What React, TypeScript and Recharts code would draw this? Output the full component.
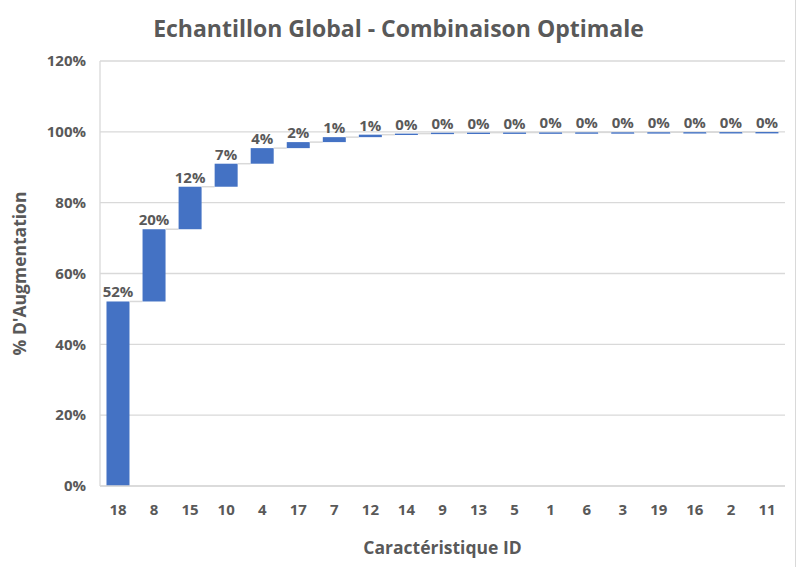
import { Bar, BarChart, CartesianGrid, LabelList, XAxis, YAxis } from 'recharts';

const categories = ['18', '8', '15', '10', '4', '17', '7', '12', '14', '9', '13', '5', '1', '6', '3', '19', '16', '2', '11'];
const increments = [52.1, 20.4, 12.0, 6.5, 4.4, 1.7, 1.4, 0.7, 0.3, 0.25, 0.03, 0.03, 0.02, 0.02, 0.02, 0.02, 0.02, 0.02, 0.02];
const yTicks = [0, 20, 40, 60, 80, 100, 120];

const TEXT = '#595959';
const GRID = '#d9d9d9';
const BLUE = '#4472c4';
const FONT = '"Open Sans", sans-serif';
const GAP = 0.18;

// running base for each step of the waterfall
const data = categories.map((id, i) => {
  const base = increments.slice(0, i).reduce((a, b) => a + b, 0);
  return { id, base, value: increments[i] };
});

function StepBar(props: any) {
  const { x, y, width, height, index } = props;
  const h = Math.max(height, 1.4);
  const gap = (width * 2 * GAP) / (1 - 2 * GAP);
  return (
    <g>
      <rect x={x} y={y} width={width} height={h} fill={BLUE} />
      {index < categories.length - 1 && (
        <line x1={x + width} x2={x + width + gap} y1={y} y2={y} stroke={GRID} strokeWidth={1.5} />
      )}
    </g>
  );
}

export default function App() {
  return (
    <div style={{ position: 'absolute', left: 0, top: 0, width: 797, height: 567, background: '#fff', fontFamily: FONT }}>
      <div
        style={{
          position: 'absolute',
          top: 12,
          width: '100%',
          textAlign: 'center',
          fontSize: 23,
          fontWeight: 700,
          color: TEXT,
        }}
      >
        Echantillon Global - Combinaison Optimale
      </div>
      <BarChart
        width={797}
        height={567}
        data={data}
        barCategoryGap={`${GAP * 100}%`}
        margin={{ top: 61, right: 12, bottom: 51, left: 20 }}
      >
        <CartesianGrid stroke={GRID} strokeWidth={1.3} vertical={false} />
        <XAxis
          dataKey="id"
          axisLine={{ stroke: GRID, strokeWidth: 1.3 }}
          tickLine={false}
          tick={{ fill: TEXT, fontSize: 15, fontWeight: 700, fontFamily: FONT }}
          dy={10}
          label={{
            value: 'Caractéristique ID',
            position: 'insideBottom',
            offset: -38,
            fill: TEXT,
            fontSize: 17.5,
            fontWeight: 700,
            fontFamily: FONT,
          }}
        />
        <YAxis
          domain={[0, 120]}
          ticks={yTicks}
          width={80}
          axisLine={{ stroke: GRID, strokeWidth: 1.3 }}
          tickLine={false}
          tickFormatter={(v: number) => `${v}%`}
          tick={{ fill: TEXT, fontSize: 15, fontWeight: 700, fontFamily: FONT }}
          dx={-6}
          label={{
            value: "% D'Augmentation",
            angle: -90,
            position: 'insideLeft',
            offset: 0,
            style: { textAnchor: 'middle' },
            fill: TEXT,
            fontSize: 17.5,
            fontWeight: 700,
            fontFamily: FONT,
          }}
        />
        <Bar dataKey="base" stackId="w" fill="transparent" isAnimationActive={false} />
        <Bar dataKey="value" stackId="w" shape={StepBar} isAnimationActive={false}>
          <LabelList
            dataKey="value"
            position="top"
            offset={4}
            formatter={(v: any) => `${Math.round(Number(v))}%`}
            fill={TEXT}
            fontSize={15}
            fontWeight={700}
            fontFamily={FONT}
          />
        </Bar>
      </BarChart>
      <div style={{ position: 'absolute', right: 1, top: 0, width: 1, height: 567, background: GRID }} />
    </div>
  );
}
